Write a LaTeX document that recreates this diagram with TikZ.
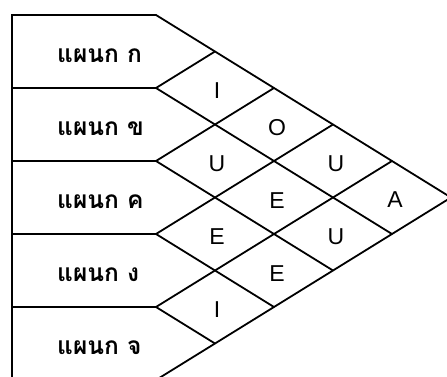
\documentclass[tikz,border=0pt]{standalone}
\usepackage{fontspec}
\setmainfont{Liberation Sans}
\newfontfamily\thaifont[Script=Thai]{Loma}
\begin{document}
\begin{tikzpicture}[x=1pt,y=-1pt,
  gridline/.style={line width=1.8pt, line join=miter},
  vowel/.style={inner sep=0pt, font=\fontsize{23}{24}\selectfont},
  dept/.style={inner sep=0pt, anchor=base west, font=\thaifont\bfseries\fontsize{24.5}{26}\selectfont}]
\useasboundingbox (0,0) rectangle (447,377);
\clip (0,0) rectangle (447,377);
% lattice points
\foreach \c in {0,...,5}{\foreach \h in {0,...,10}{
  \coordinate (g-\c-\h) at ({156+59*\c},{15+36.5*\h});}}
\foreach \k in {0,...,5}{\coordinate (L\k) at (12,{15+73*\k});}
% outline
\draw[gridline] (L5) -- (L0) -- (g-0-0) -- (g-5-5) -- (g-0-10);
% row separators and lattice lines
\foreach \k in {1,...,4}{
  \pgfmathtruncatemacro{\h}{2*\k}
  \pgfmathtruncatemacro{\cb}{5-\k}
  \pgfmathtruncatemacro{\hb}{5+\k}
  \draw[gridline] (L\k) -- (g-0-\h);
  \draw[gridline] (g-\k-\k) -- (g-0-\h) -- (g-\cb-\hb);
}
% department labels
\foreach \k/\t in {0/ก,1/ข,2/ค,3/ง,4/จ}{
  \node[dept] (d\k) at (57,{51.5+73*\k+11}) {แผนก \t};
}
% vowels
\node[vowel] (v1) at ([shift={(2,3)}]g-1-2) {I};
\node[vowel] (v2) at ([shift={(2,3)}]g-1-4) {U};
\node[vowel] (v3) at ([shift={(2,3)}]g-1-6) {E};
\node[vowel] (v4) at ([shift={(2,3)}]g-1-8) {I};
\node[vowel] (v5) at ([shift={(3,3)}]g-2-3) {O};
\node[vowel] (v6) at ([shift={(3,3)}]g-2-5) {E};
\node[vowel] (v7) at ([shift={(3,3)}]g-2-7) {E};
\node[vowel] (v8) at ([shift={(3,3)}]g-3-4) {U};
\node[vowel] (v9) at ([shift={(3,3)}]g-3-6) {U};
\node[vowel] (v10) at ([shift={(3,2)}]g-4-5) {A};
\end{tikzpicture}
\end{document}
